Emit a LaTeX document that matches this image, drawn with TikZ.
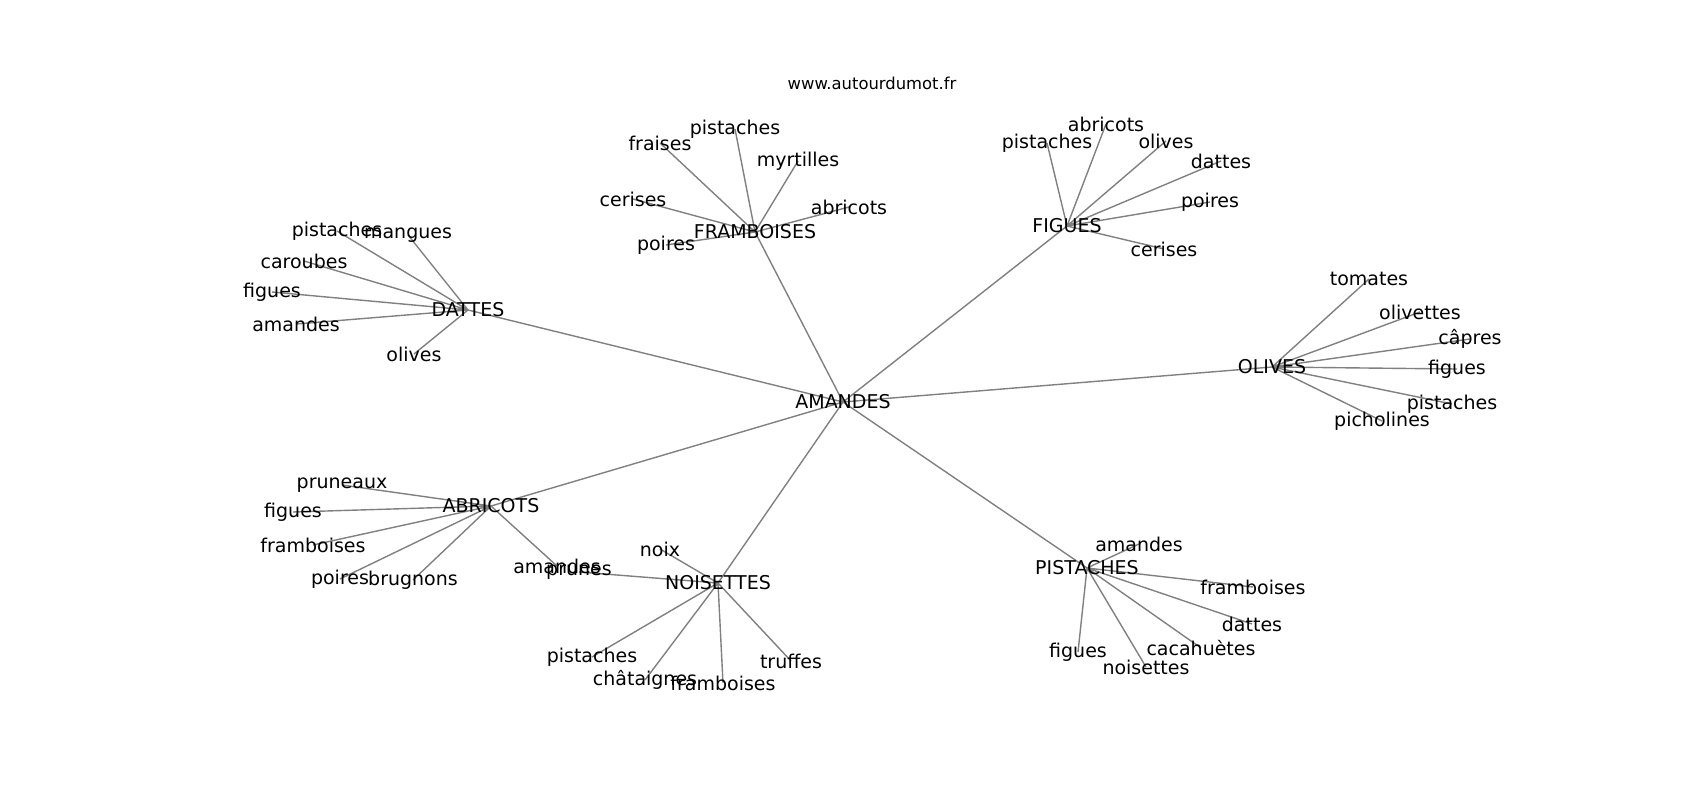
\documentclass[tikz,border=0pt]{standalone}
\usepackage{fontspec}
\setmainfont{DejaVu Sans}
\usepackage{tikz}
\usetikzlibrary{backgrounds}

\begin{document}
\begin{tikzpicture}[x=1pt,y=-1pt,
  word/.style={inner sep=0pt,font=\fontsize{19}{22}\selectfont},
  link/.style={black!50,line width=1.4pt}]
  \useasboundingbox (0,0) rectangle (1700,800);
  \node[inner sep=0pt,font=\fontsize{16.4}{19}\selectfont] (site) at (872,83) {www.autourdumot.fr};
  \node[word] (am) at (843,402) {AMANDES};
  \node[word] (dat) at (468,310) {DATTES};
  \node[word] (dat1) at (337,231) {pistaches};
  \node[word] (dat2) at (408,235) {mangues};
  \node[word] (dat3) at (304,261) {caroubes};
  \node[word] (dat4) at (272,292) {figues};
  \node[word] (dat5) at (296,324) {amandes};
  \node[word] (dat6) at (414,354) {olives};
  \node[word] (fra) at (755,232) {FRAMBOISES};
  \node[word] (fra1) at (660,143) {fraises};
  \node[word] (fra2) at (735,129) {pistaches};
  \node[word] (fra3) at (798,161) {myrtilles};
  \node[word] (fra4) at (633,199) {cerises};
  \node[word] (fra5) at (849,207) {abricots};
  \node[word] (fra6) at (666,245) {poires};
  \node[word] (fig) at (1067,226) {FIGUES};
  \node[word] (fig1) at (1047,143) {pistaches};
  \node[word] (fig2) at (1106,124) {abricots};
  \node[word] (fig3) at (1166,141) {olives};
  \node[word] (fig4) at (1221,161) {dattes};
  \node[word] (fig5) at (1210,202) {poires};
  \node[word] (fig6) at (1164,249) {cerises};
  \node[word] (oli) at (1272,367) {OLIVES};
  \node[word] (oli1) at (1369,279) {tomates};
  \node[word] (oli2) at (1420,312) {olivettes};
  \node[word] (oli3) at (1470,339) {câpres};
  \node[word] (oli4) at (1457,369) {figues};
  \node[word] (oli5) at (1452,404) {pistaches};
  \node[word] (oli6) at (1382,421) {picholines};
  \node[word] (abr) at (491,506) {ABRICOTS};
  \node[word] (abr1) at (342,485) {pruneaux};
  \node[word] (abr2) at (293,512) {figues};
  \node[word] (abr3) at (313,545) {framboises};
  \node[word] (abr4) at (340,579) {poires};
  \node[word] (abr5) at (413,580) {brugnons};
  \node[word] (abr6) at (557,566) {amandes};
  \node[word] (noi) at (718,583) {NOISETTES};
  \node[word] (noi1) at (660,549) {noix};
  \node[word] (noi2) at (579,572) {prunes};
  \node[word] (noi3) at (592,657) {pistaches};
  \node[word] (noi4) at (645,680) {châtaignes};
  \node[word] (noi5) at (723,683) {framboises};
  \node[word] (noi6) at (791,661) {truffes};
  \node[word] (pis) at (1087,568) {PISTACHES};
  \node[word] (pis1) at (1139,544) {amandes};
  \node[word] (pis2) at (1253,587) {framboises};
  \node[word] (pis3) at (1252,624) {dattes};
  \node[word] (pis4) at (1201,648) {cacahuètes};
  \node[word] (pis5) at (1078,652) {figues};
  \node[word] (pis6) at (1146,667) {noisettes};
  \begin{pgfonlayer}{background}
    \draw[link] (am.center) -- (dat.center) (am.center) -- (fra.center) (am.center) -- (fig.center) (am.center) -- (oli.center) (am.center) -- (abr.center) (am.center) -- (noi.center) (am.center) -- (pis.center);
    \draw[link] (dat.center) -- (dat1.center) (dat.center) -- (dat2.center) (dat.center) -- (dat3.center) (dat.center) -- (dat4.center) (dat.center) -- (dat5.center) (dat.center) -- (dat6.center);
    \draw[link] (fra.center) -- (fra1.center) (fra.center) -- (fra2.center) (fra.center) -- (fra3.center) (fra.center) -- (fra4.center) (fra.center) -- (fra5.center) (fra.center) -- (fra6.center);
    \draw[link] (fig.center) -- (fig1.center) (fig.center) -- (fig2.center) (fig.center) -- (fig3.center) (fig.center) -- (fig4.center) (fig.center) -- (fig5.center) (fig.center) -- (fig6.center);
    \draw[link] (oli.center) -- (oli1.center) (oli.center) -- (oli2.center) (oli.center) -- (oli3.center) (oli.center) -- (oli4.center) (oli.center) -- (oli5.center) (oli.center) -- (oli6.center);
    \draw[link] (abr.center) -- (abr1.center) (abr.center) -- (abr2.center) (abr.center) -- (abr3.center) (abr.center) -- (abr4.center) (abr.center) -- (abr5.center) (abr.center) -- (abr6.center);
    \draw[link] (noi.center) -- (noi1.center) (noi.center) -- (noi2.center) (noi.center) -- (noi3.center) (noi.center) -- (noi4.center) (noi.center) -- (noi5.center) (noi.center) -- (noi6.center);
    \draw[link] (pis.center) -- (pis1.center) (pis.center) -- (pis2.center) (pis.center) -- (pis3.center) (pis.center) -- (pis4.center) (pis.center) -- (pis5.center) (pis.center) -- (pis6.center);
  \end{pgfonlayer}
\end{tikzpicture}
\end{document}
